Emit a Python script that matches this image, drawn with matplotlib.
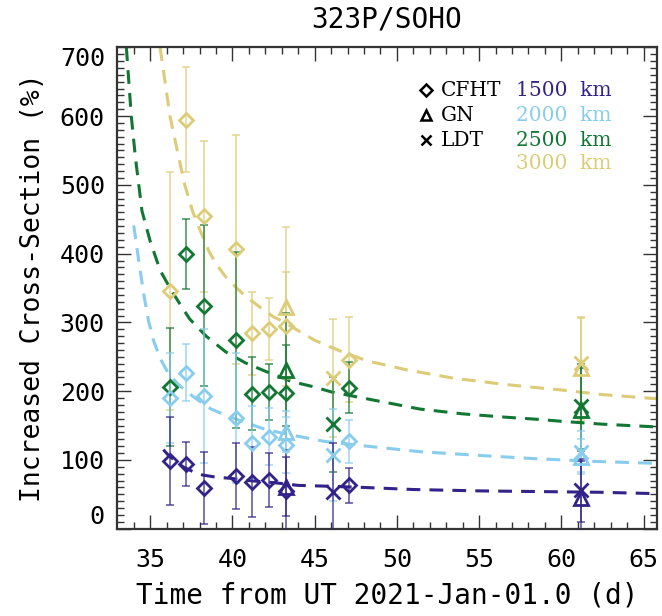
import matplotlib
matplotlib.use("Agg")
import matplotlib.pyplot as plt

# epochs, days from UT 2021-Jan-01.0
t_cfht = [36.2, 37.2, 38.25, 40.2, 41.2, 42.25, 43.25, 47.1]
t_gn = [43.25, 61.2]
t_ldt = [46.1, 61.2]

# increased cross-section (%) and errors, per aperture radius
cfht_1500 = [99, 94, 59, 76, 68, 71, 55, 63]
cfht_1500_err = [64, 32, 52, 48, 51, 39, 60, 25]
cfht_2000 = [190, 227, 193, 161, 125, 134, 122, 127]
cfht_2000_err = [66, 41, 97, 95, 53, 41, 41, 31]
cfht_2500 = [206, 400, 324, 274, 196, 199, 198, 205]
cfht_2500_err = [86, 51, 117, 128, 53, 41, 69, 37]
cfht_3000 = [346, 595, 454, 406, 284, 290, 295, 246]
cfht_3000_err = [173, 77, 110, 166, 60, 45, 78, 62]

gn_1500 = [61, 44]
gn_1500_err = [43, 55]
gn_2000 = [141, 105]
gn_2000_err = [30, 25]
gn_2500 = [231, 173]
gn_2500_err = [82, 60]
gn_3000 = [323, 233]
gn_3000_err = [115, 75]

ldt_1500 = [54, 56]
ldt_1500_err = [70, 46]
ldt_2000 = [107, 112]
ldt_2000_err = [67, 30]
ldt_2500 = [152, 178]
ldt_2500_err = [69, 62]
ldt_3000 = [219, 241]
ldt_3000_err = [86, 65]

# model curves (dashed)
curve_1500_t = [35.8, 36.1, 36.4, 37.0, 37.6, 38.2, 39.0, 40.0, 41.0, 42.5, 44.0,
                45.5, 48.0, 51.0, 55.0, 58.7, 62.3, 65.8]
curve_1500_y = [115, 107, 101, 90, 83, 78, 75, 73, 70, 67, 63,
                62, 60, 57, 55, 54, 53, 51]
curve_2000_t = [34.0, 34.3, 34.6, 34.9, 35.2, 35.6, 36.1, 36.7, 37.4, 38.2, 38.7,
                39.5, 40.5, 41.8, 43.0, 44.3, 45.6, 48.2, 51.4, 55.4, 58.3,
                61.9, 65.8]
curve_2000_y = [441, 390, 342, 302, 274, 248, 226, 210, 196, 182, 174,
                166, 157, 146, 139, 133, 127, 120, 112, 106, 102,
                98, 95]
curve_2500_t = [33.55, 33.7, 33.85, 34.1, 34.5, 35.0, 35.6, 36.2, 36.8, 37.4,
                38.4, 39.6, 40.8, 42.1, 43.6, 45.0, 46.0, 48.8, 51.4, 54.0,
                56.7, 58.6, 60.1, 62.5, 65.8]
curve_2500_y = [700, 650, 600, 540, 462, 418, 376, 350, 327, 305,
                280, 257, 241, 228, 214, 206, 199, 186, 174, 167,
                162, 159, 156, 152, 148]
curve_3000_t = [35.6, 35.9, 36.2, 36.6, 37.1, 37.6, 38.1, 38.6, 39.1, 39.6,
                40.3, 40.8, 41.3, 41.9, 42.5, 43.1, 44.0, 45.0, 46.0, 46.7,
                48.2, 50.6, 53.4, 56.5, 58.1, 59.9, 62.5, 65.8]
curve_3000_y = [700, 650, 600, 555, 500, 460, 430, 402, 382, 366,
                349, 338, 329, 318, 308, 301, 288, 274, 264, 257,
                244, 231, 219, 210, 206, 202, 195, 189]

radii = [3000, 2500, 2000, 1500]
colors = {1500: '#332288', 2000: '#88CCEE', 2500: '#117733', 3000: '#DDCC77'}

cfht = {1500: (cfht_1500, cfht_1500_err), 2000: (cfht_2000, cfht_2000_err),
        2500: (cfht_2500, cfht_2500_err), 3000: (cfht_3000, cfht_3000_err)}
gn = {1500: (gn_1500, gn_1500_err), 2000: (gn_2000, gn_2000_err),
      2500: (gn_2500, gn_2500_err), 3000: (gn_3000, gn_3000_err)}
ldt = {1500: (ldt_1500, ldt_1500_err), 2000: (ldt_2000, ldt_2000_err),
       2500: (ldt_2500, ldt_2500_err), 3000: (ldt_3000, ldt_3000_err)}
curves = {1500: (curve_1500_t, curve_1500_y), 2000: (curve_2000_t, curve_2000_y),
          2500: (curve_2500_t, curve_2500_y), 3000: (curve_3000_t, curve_3000_y)}

plt.rcParams['font.family'] = 'DejaVu Sans Mono'
fig = plt.figure(figsize=(6.62, 6.16), dpi=100)
ax = fig.add_axes([0.1772, 0.1417, 0.8148, 0.7815])

for r in radii:
    c = colors[r]
    ct, cy = curves[r]
    ax.plot(ct, cy, color=c, lw=2.2, dashes=(4.5, 3), zorder=2)

for r in radii:
    c = colors[r]
    for t, data, mk, ms in [(t_cfht, cfht, 'D', 7), (t_gn, gn, '^', 10),
                            (t_ldt, ldt, 'x', 10)]:
        vals, errs = data[r]
        ax.errorbar(t, vals, yerr=errs, fmt='none', ecolor=c, elinewidth=1.1,
                    capsize=3, capthick=1.1, alpha=0.8, zorder=3)
        ax.plot(t, vals, ls='none', marker=mk, ms=ms, mfc='none', mec=c,
                mew=2.0, zorder=4)

ax.set_xlim(33.0, 65.8)
ax.set_ylim(0, 700)
ax.set_xticks([35, 40, 45, 50, 55, 60, 65])
ax.set_xticks(range(34, 66), minor=True)
ax.set_yticks(range(0, 701, 100))
ax.set_yticks(range(0, 701, 10), minor=True)
ax.tick_params(which='both', direction='in', top=True, right=True,
               labelsize=18, width=1.0, color='#333333')
ax.tick_params(which='major', length=10)
ax.tick_params(which='minor', length=5)
ax.tick_params(axis='x', pad=14)
ax.tick_params(axis='y', pad=9)
for s in ax.spines.values():
    s.set_linewidth(1.6)
    s.set_color('#333333')

ylabels = ax.get_yticklabels()
ylabels[0].set_va('bottom')
ylabels[-1].set_va('top')

ax.set_xlabel('Time from UT 2021-Jan-01.0 (d)', fontsize=20, labelpad=7)
ax.set_ylabel('Increased Cross-Section (%)', fontsize=19, labelpad=10)
ax.set_title('323P/SOHO', fontsize=20, pad=14)

# legend: instruments
leg_y = [0.911, 0.859, 0.807]
for yy, mk, name in zip(leg_y, ['D', '^', 'x'], ['CFHT', 'GN', 'LDT']):
    ax.plot([0.573], [yy], transform=ax.transAxes, marker=mk, ms=6 if mk == 'D' else 7,
            mfc='none', mec='black', mew=1.8, ls='none', clip_on=False)
    ax.text(0.600, yy, name, transform=ax.transAxes, fontsize=14.5,
            family='DejaVu Serif', va='center', ha='left')
# legend: radii
for yy, r in zip([0.911, 0.859, 0.807, 0.759], [1500, 2000, 2500, 3000]):
    ax.text(0.740, yy, f'{r}  km', transform=ax.transAxes, fontsize=14.5,
            family='DejaVu Serif', va='center', ha='left', color=colors[r])

fig.savefig('out.png', dpi=100)
